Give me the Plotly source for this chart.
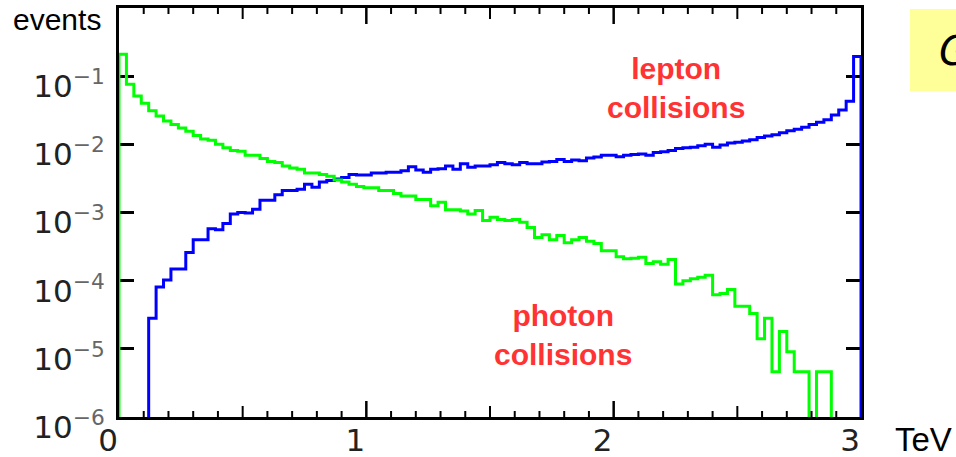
import numpy as np
import plotly.graph_objects as go

# ---------------- data ----------------
tev_min, tev_max, n_bins = 0.0, 3.0, 100

photon = [
    2.1e-1, 7.6e-2, 5.1e-2, 4.0e-2, 3.1e-2, 2.6e-2, 2.2e-2, 1.95e-2, 1.74e-2, 1.55e-2,
    1.35e-2, 1.2e-2, 1.15e-2, 1.0e-2, 8.9e-3, 8.1e-3, 7.9e-3, 6.9e-3, 6.9e-3, 6.2e-3,
    5.6e-3, 5.4e-3, 4.8e-3, 4.5e-3, 4.3e-3, 3.8e-3, 3.8e-3, 3.6e-3, 3.4e-3, 3.0e-3,
    2.8e-3, 2.6e-3, 2.4e-3, 2.3e-3, 2.3e-3, 2.1e-3, 2.1e-3, 1.9e-3, 1.74e-3, 1.74e-3,
    1.55e-3, 1.55e-3, 1.26e-3, 1.41e-3, 1.1e-3, 1.1e-3, 1.05e-3, 9.5e-4, 1.07e-3, 7.6e-4,
    8.5e-4, 7.9e-4, 7.6e-4, 7.9e-4, 7.2e-4, 6.0e-4, 4.3e-4, 4.7e-4, 4.0e-4, 4.6e-4,
    3.6e-4, 4.0e-4, 4.3e-4, 3.8e-4, 3.5e-4, 2.75e-4, 2.75e-4, 2.24e-4, 2.1e-4, 2.14e-4,
    2.2e-4, 1.78e-4, 1.9e-4, 1.74e-4, 2.04e-4, 8.9e-5, 1.0e-4, 1.07e-4, 1.12e-4, 1.2e-4,
    6.2e-5, 6.5e-5, 7.4e-5, 4.2e-5, 4.2e-5, 3.3e-5, 1.4e-5, 2.8e-5, 4.6e-6, 1.8e-5,
    9.1e-6, 4.6e-6, 4.6e-6, 0.0, 4.6e-6, 4.6e-6, 0.0, 0.0, 0.0, 0.0,
]

lepton = [
    0.0, 0.0, 0.0, 0.0, 2.8e-5, 8.1e-5, 1.02e-4, 1.48e-4, 1.48e-4, 2.6e-4,
    4.0e-4, 4.0e-4, 5.8e-4, 5.6e-4, 6.9e-4, 9.5e-4, 1.0e-3, 9.8e-4, 1.12e-3, 1.51e-3,
    1.51e-3, 1.82e-3, 2.1e-3, 2.1e-3, 2.2e-3, 2.6e-3, 2.35e-3, 2.8e-3, 2.95e-3, 3.1e-3,
    3.25e-3, 3.6e-3, 3.55e-3, 3.55e-3, 3.8e-3, 3.8e-3, 3.9e-3, 3.9e-3, 4.1e-3, 4.7e-3,
    4.2e-3, 3.9e-3, 4.3e-3, 4.4e-3, 4.8e-3, 4.3e-3, 5.2e-3, 4.6e-3, 4.8e-3, 4.8e-3,
    5.0e-3, 5.4e-3, 5.2e-3, 5.0e-3, 5.4e-3, 5.2e-3, 5.2e-3, 5.5e-3, 5.6e-3, 6.0e-3,
    5.6e-3, 5.9e-3, 5.75e-3, 6.3e-3, 6.5e-3, 6.9e-3, 6.9e-3, 6.6e-3, 6.9e-3, 7.1e-3,
    7.2e-3, 6.9e-3, 7.6e-3, 7.8e-3, 8.1e-3, 8.7e-3, 8.9e-3, 9.1e-3, 9.5e-3, 1.0e-2,
    9.1e-3, 9.8e-3, 1.05e-2, 1.07e-2, 1.12e-2, 1.17e-2, 1.26e-2, 1.32e-2, 1.38e-2, 1.48e-2,
    1.58e-2, 1.66e-2, 1.78e-2, 1.95e-2, 2.1e-2, 2.3e-2, 2.7e-2, 3.2e-2, 4.3e-2, 1.95e-1,
]

x_tick_vals = [0, 1, 2, 3]
x_tick_text = ["0", "1", "2", "3"]
x_minor_step = 0.1
y_exponents = [-6, -5, -4, -3, -2, -1]
y_tick_vals = [10.0 ** e for e in y_exponents]
y_tick_text = [
    "10<sup><span style='color:#666666'>\u2212%d</span></sup>" % (-e) for e in y_exponents
]

# ---------------- drawing ----------------
edges = np.linspace(tev_min, tev_max, n_bins + 1)
FLOOR = 1e-8  # empty bins fall below the axis floor (log scale)


def outline(vals):
    v = [val if val > 0 else FLOOR for val in vals]
    xs = [edges[0]] + list(edges[:-1]) + [edges[-1]]
    ys = [FLOOR] + v + [FLOOR]
    return xs, ys


fig = go.Figure()
xl, yl = outline(lepton)
fig.add_trace(go.Scatter(x=xl, y=yl, mode="lines", line=dict(color="#0000ff", width=3, shape="hv"),
                         hoverinfo="skip", showlegend=False))
xp, yp = outline(photon)
fig.add_trace(go.Scatter(x=xp, y=yp, mode="lines", line=dict(color="#00ff00", width=3, shape="hv"),
                         hoverinfo="skip", showlegend=False))

tick_font = dict(family="DejaVu Sans", size=31, color="#222222")

fig.update_layout(
    width=956, height=457,
    margin=dict(l=119, r=95, t=8, b=40),
    paper_bgcolor="white", plot_bgcolor="white",
    xaxis=dict(
        range=[tev_min, tev_max], showgrid=False, zeroline=False, automargin=False,
        showline=True, linewidth=3, linecolor="black", mirror=True,
        ticks="", tickmode="array", tickvals=x_tick_vals, ticktext=x_tick_text,
        tickfont=tick_font, ticklabelshift=-11, ticklabelstandoff=-6,
    ),
    yaxis=dict(
        type="log", range=[-6, 0], showgrid=False, zeroline=False, automargin=False,
        showline=True, linewidth=3, linecolor="black", mirror="allticks",
        ticks="inside", ticklen=15, tickwidth=3, tickcolor="black",
        tickmode="array", tickvals=y_tick_vals, ticktext=y_tick_text, tickfont=tick_font,
        ticklabelshift=10, ticklabelstandoff=5,
        layer="below traces",
    ),
)

# x-axis tick marks (bottom and mirrored top), placed on the x scale
n_minor = int(round((tev_max - tev_min) / x_minor_step))
for k in range(1, n_minor):
    xv = tev_min + k * x_minor_step
    if k % 10 == 0:
        tl, tw = 16, 2.5
    elif k % 5 == 0:
        tl, tw = 11, 2
    else:
        tl, tw = 6, 2
    for anchor, sgn in ((0, 1), (1, -1)):
        fig.add_shape(type="line", xref="x", yref="paper", x0=xv, x1=xv,
                      ysizemode="pixel", yanchor=anchor, y0=0, y1=sgn * tl,
                      line=dict(color="black", width=tw), layer="above")

red = "#ff3333"
lab_font = dict(family="Liberation Sans, Arial", size=30, color=red)
fig.add_annotation(text="<b>lepton<br>collisions</b>", xref="paper", yref="paper",
                   x=0.7507, y=0.804, xanchor="center", yanchor="middle", showarrow=False,
                   font=lab_font)
fig.add_annotation(text="<b>photon<br>collisions</b>", xref="paper", yref="paper",
                   x=0.598, y=0.200, xanchor="center", yanchor="middle", showarrow=False,
                   font=lab_font)
fig.add_annotation(text="events", xref="paper", yref="paper", x=-0.1456, y=0.973,
                   xanchor="left", yanchor="middle", showarrow=False,
                   font=dict(family="Liberation Sans, Arial", size=30, color="black"))
fig.add_annotation(text="TeV", xref="paper", yref="paper", x=1.043, y=-0.056,
                   xanchor="left", yanchor="middle", showarrow=False,
                   font=dict(family="Liberation Sans, Arial", size=33, color="black"))
fig.add_shape(type="rect", xref="paper", yref="paper", x0=1.066, x1=1.14, y0=0.797, y1=0.9976,
              fillcolor="#ffff99", line=dict(width=0), layer="below")
fig.add_annotation(text="<i>G</i>", xref="paper", yref="paper", x=1.1024, y=0.895,
                   xanchor="left", yanchor="middle", showarrow=False,
                   font=dict(family="DejaVu Sans", size=40, color="black"))

fig.write_html("out.html", config={"displayModeBar": False},
               post_script="document.body.style.margin='0';document.body.style.overflow='hidden';")
